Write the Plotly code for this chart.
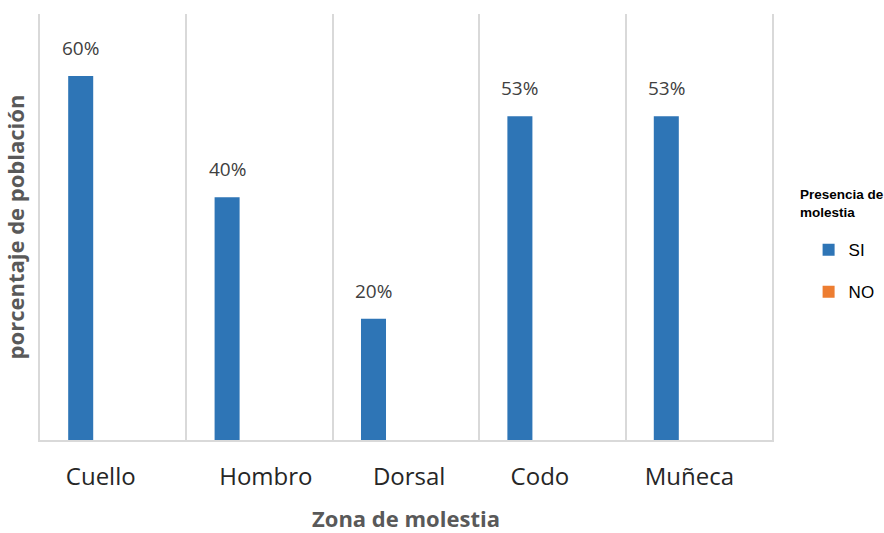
import plotly.graph_objects as go

categories = ["Cuello", "Hombro", "Dorsal", "Codo", "Muñeca"]
si_values = [0.60, 0.40, 0.20, 0.5333, 0.5333]
no_values = [0, 0, 0, 0, 0]
si_labels = ["60%", "40%", "20%", "53%", "53%"]
# tick label texts as displayed (padded like the original layout)
NB = "\u00a0"
tick_texts = ["Cuello" + NB * 4, NB * 2 + "Hombro", NB + "Dorsal", "Codo" + NB * 4, "Muñeca" + NB * 3]

fig = go.Figure()
fig.add_trace(go.Bar(name="SI", x=categories, y=si_values, marker_color="#2E75B6",
                     marker_line_width=0, legendgroup="a"))
fig.add_trace(go.Bar(name="NO", x=categories, y=no_values, marker_color="#ED7D31",
                     marker_line_width=0, legendgroup="b"))

for c, v, t in zip(categories, si_values, si_labels):
    fig.add_annotation(x=c, y=v, text=t, showarrow=False, xshift=-32.5, yshift=13,
                       yanchor="bottom", font=dict(family="Open Sans", size=19, color="#404040"))

fig.add_annotation(xref="paper", yref="paper", x=1.0355, y=0.598, xanchor="left", yanchor="top",
                   align="left", showarrow=False,
                   text="<b>Presencia de<br>molestia</b>",
                   font=dict(family="Liberation Sans, Arial", size=13.5, color="#000000"))

fig.update_layout(
    width=884, height=533,
    margin=dict(l=40, r=112, t=14, b=93, autoexpand=False),
    paper_bgcolor="white", plot_bgcolor="white",
    barmode="group", bargap=0.112, bargroupgap=0.615,
    showlegend=True,
    legend=dict(
        font=dict(family="Liberation Sans, Arial", size=17, color="#000000"),
        x=1.05, xanchor="left", y=0.488, yanchor="top",
        tracegroupgap=17, itemsizing="constant",
    ),
    xaxis=dict(
        automargin=True,
        tickson="boundaries", showgrid=True, gridcolor="#D9D9D9", gridwidth=1.5,
        showline=True, linecolor="#D9D9D9", linewidth=2, ticks="",
        tickmode="array", tickvals=categories, ticktext=tick_texts,
        ticklabelstandoff=14,
        tickfont=dict(family="Open Sans", size=24, color="#262626"),
        title=dict(text="<b>Zona de molestia</b>", font=dict(family="Open Sans", size=22, color="#595959"), standoff=25),
    ),
    yaxis=dict(
        automargin=False,
        range=[0, 0.702], showgrid=False, showticklabels=False, zeroline=False,
        showline=True, mirror=True, linecolor="#D9D9D9", linewidth=1.5, ticks="",
        title=dict(text="<b>porcentaje de población</b>", font=dict(family="Open Sans", size=22, color="#595959"), standoff=8),
    ),
)

fig.write_html("out.html")
